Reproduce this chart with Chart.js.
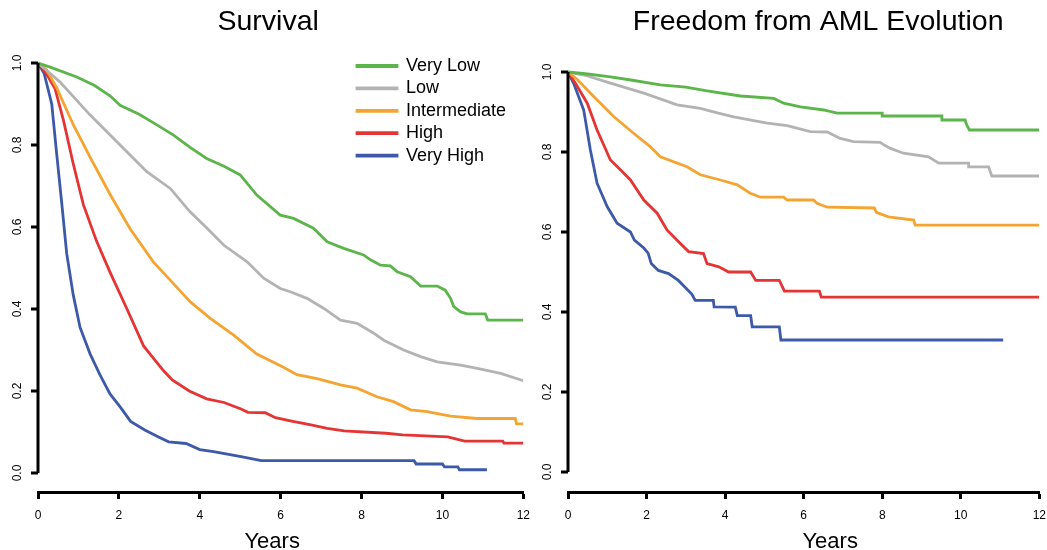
<!DOCTYPE html>
<html>
<head>
<meta charset="utf-8">
<title>IPSS-R survival and AML evolution</title>
<script src="https://cdn.jsdelivr.net/npm/chart.js@4.4.0/dist/chart.umd.min.js"></script>
<style>
  html, body { margin: 0; padding: 0; background: #fff; overflow: hidden; }
  .wrap { position: relative; width: 1047px; height: 550px; overflow: hidden; }
  canvas { position: absolute; top: 0; }
  #survival { left: 0; }
  #aml { left: 530px; }
</style>
</head>
<body>
<div class="wrap">
  <canvas id="survival" width="539" height="550"></canvas>
  <canvas id="aml" width="525" height="550"></canvas>
</div>
<script>
const FONT = "'Liberation Sans', Arial, Helvetica, sans-serif";

const riskGroups = ["Very Low", "Low", "Intermediate", "High", "Very High"];
const groupColors = ["#5cb54a", "#b3b3b3", "#f5a431", "#e43434", "#3d5aa9"];
const yearTicks = [0, 2, 4, 6, 8, 10, 12];
const probTicks = [0, 0.2, 0.4, 0.6, 0.8, 1.0];

// overall survival, [years, proportion alive]
const osVeryLow = [[0, 1], [0.3, 0.99], [0.96, 0.966], [1.4, 0.945], [1.78, 0.92], [2.03, 0.897],
  [2.5, 0.875], [2.94, 0.849], [3.35, 0.824], [3.76, 0.794], [4.17, 0.767], [4.6, 0.748],
  [5.0, 0.727], [5.41, 0.678], [5.99, 0.629], [6.32, 0.621], [6.81, 0.597], [7.15, 0.564],
  [7.56, 0.548], [8.05, 0.532], [8.22, 0.52], [8.47, 0.507], [8.71, 0.505], [8.88, 0.491],
  [9.21, 0.479], [9.46, 0.456], [9.87, 0.456], [10.07, 0.446], [10.2, 0.426], [10.28, 0.406],
  [10.45, 0.393], [10.61, 0.388], [11.06, 0.388], [11.12, 0.373], [12, 0.373]];
const osLow = [[0, 1], [0.54, 0.954], [1.29, 0.873], [1.95, 0.808], [2.69, 0.735], [3.27, 0.694],
  [3.76, 0.637], [4.18, 0.597], [4.59, 0.556], [5.17, 0.515], [5.58, 0.475], [5.99, 0.45],
  [6.24, 0.442], [6.65, 0.426], [7.06, 0.402], [7.48, 0.373], [7.89, 0.365], [8.3, 0.341],
  [8.55, 0.324], [9.04, 0.3], [9.46, 0.284], [9.87, 0.271], [10.45, 0.263], [10.86, 0.255],
  [11.44, 0.243], [12, 0.225]];
const osIntermediate = [[0, 1], [0.2, 0.985], [0.46, 0.94], [0.87, 0.85], [1.29, 0.77], [1.78, 0.68],
  [2.28, 0.595], [2.85, 0.515], [3.35, 0.462], [3.76, 0.418], [4.26, 0.377], [4.83, 0.337],
  [5.41, 0.29], [6.07, 0.258], [6.4, 0.24], [6.9, 0.23], [7.48, 0.215], [7.89, 0.207],
  [8.38, 0.186], [8.79, 0.174], [9.21, 0.154], [9.62, 0.15], [10.2, 0.139], [10.86, 0.133],
  [11.8, 0.133], [11.83, 0.12], [12, 0.12]];
const osHigh = [[0, 1], [0.2, 0.975], [0.42, 0.938], [0.63, 0.86], [0.87, 0.755], [1.12, 0.655],
  [1.45, 0.565], [1.78, 0.49], [2.2, 0.4], [2.61, 0.31], [3.1, 0.25], [3.32, 0.227], [3.74, 0.2],
  [4.17, 0.181], [4.6, 0.172], [5.02, 0.156], [5.19, 0.148], [5.62, 0.147], [5.87, 0.135],
  [6.3, 0.126], [6.72, 0.118], [7.15, 0.109], [7.57, 0.103], [8.6, 0.097], [9.02, 0.093],
  [10.13, 0.088], [10.55, 0.078], [11.49, 0.078], [11.52, 0.073], [12, 0.073]];
const osVeryHigh = [[0, 1], [0.15, 0.975], [0.34, 0.9], [0.46, 0.78], [0.59, 0.655], [0.71, 0.535],
  [0.87, 0.435], [1.04, 0.355], [1.29, 0.29], [1.53, 0.24], [1.78, 0.193], [2.04, 0.16],
  [2.29, 0.126], [2.64, 0.105], [2.98, 0.088], [3.23, 0.076], [3.66, 0.072], [4.0, 0.057],
  [4.34, 0.052], [5.02, 0.04], [5.52, 0.03], [9.3, 0.03], [9.35, 0.022], [10.0, 0.022],
  [10.05, 0.015], [10.38, 0.015], [10.42, 0.008], [11.1, 0.008]];

// freedom from AML evolution, [years, proportion free]
const amlVeryLow = [[0, 1], [0.5, 0.995], [1.08, 0.988], [1.6, 0.98], [2.35, 0.968], [3.0, 0.962],
  [3.54, 0.953], [4.39, 0.94], [5.24, 0.934], [5.49, 0.922], [5.92, 0.913], [6.51, 0.905],
  [6.85, 0.897], [8.0, 0.897], [8.0, 0.89], [9.52, 0.89], [9.52, 0.88], [10.11, 0.88],
  [10.15, 0.868], [10.22, 0.855], [12, 0.855]];
const amlLow = [[0, 1], [0.5, 0.99], [1.08, 0.972], [1.93, 0.947], [2.78, 0.918], [3.37, 0.909],
  [3.8, 0.898], [4.22, 0.888], [5.07, 0.872], [5.58, 0.866], [6.17, 0.851], [6.6, 0.85],
  [6.93, 0.834], [7.27, 0.826], [7.95, 0.824], [8.04, 0.818], [8.21, 0.809], [8.54, 0.797],
  [9.18, 0.788], [9.44, 0.772], [10.2, 0.772], [10.2, 0.763], [10.71, 0.763], [10.79, 0.74],
  [12, 0.74]];
const amlIntermediate = [[0, 1], [0.25, 0.98], [0.66, 0.938], [1.17, 0.888], [1.67, 0.847],
  [2.1, 0.813], [2.35, 0.788], [3.03, 0.763], [3.37, 0.743], [3.88, 0.73], [4.31, 0.718],
  [4.64, 0.697], [4.9, 0.687], [5.49, 0.687], [5.58, 0.68], [6.25, 0.68], [6.34, 0.672],
  [6.6, 0.662], [7.8, 0.66], [7.85, 0.649], [8.16, 0.638], [8.8, 0.63], [8.84, 0.617], [12, 0.617]];
const amlHigh = [[0, 1], [0.2, 0.97], [0.49, 0.922], [0.74, 0.855], [1.08, 0.78], [1.34, 0.755],
  [1.59, 0.73], [1.93, 0.68], [2.27, 0.647], [2.52, 0.605], [2.81, 0.576], [3.07, 0.551],
  [3.45, 0.546], [3.54, 0.521], [3.84, 0.513], [4.09, 0.5], [4.65, 0.5], [4.78, 0.479],
  [5.38, 0.479], [5.51, 0.452], [6.4, 0.452], [6.45, 0.437], [12, 0.437]];
const amlVeryHigh = [[0, 1], [0.15, 0.97], [0.4, 0.905], [0.57, 0.805], [0.74, 0.722], [1.0, 0.663],
  [1.25, 0.622], [1.59, 0.6], [1.69, 0.58], [1.93, 0.56], [2.04, 0.547], [2.12, 0.521],
  [2.3, 0.504], [2.56, 0.496], [2.81, 0.479], [2.98, 0.462], [3.15, 0.445], [3.24, 0.429],
  [3.7, 0.429], [3.72, 0.413], [4.26, 0.412], [4.31, 0.391], [4.65, 0.391], [4.69, 0.363],
  [5.38, 0.363], [5.42, 0.33], [11.08, 0.33]];

Chart.defaults.font.family = FONT;
Chart.defaults.color = "#000";

// R-style left axis: line only from 0 to 1, outward ticks, labels turned on their side.
// Also moves the title (relative to the plot centre) and the legend into place,
// and writes the x-axis title where the figure puts it.
const rAxis = {
  id: "rAxis",
  afterLayout(chart, args, opts) {
    const tb = chart.titleBlock;
    if (tb) {
      const c = (chart.chartArea.left + chart.chartArea.right) / 2 + (opts.titleShift || 0);
      const w = tb.right - tb.left;
      tb.left = c - w / 2;
      tb.right = c + w / 2;
    }
    const lg = chart.legend;
    if (lg && opts.legendAt) {
      const w = lg.width, h = lg.height;
      lg.left = opts.legendAt.x;
      lg.top = opts.legendAt.y;
      lg.right = lg.left + w;
      lg.bottom = lg.top + h;
    }
  },
  afterDraw(chart, args, opts) {
    const { ctx, chartArea } = chart;
    const y = chart.scales.y;
    const x0 = chartArea.left;
    const top = y.getPixelForValue(probTicks[probTicks.length - 1]);
    const bottom = y.getPixelForValue(probTicks[0]);
    ctx.save();
    ctx.strokeStyle = "#000";
    ctx.lineWidth = 3;
    ctx.beginPath();
    ctx.moveTo(x0, bottom);
    ctx.lineTo(x0, top);
    probTicks.forEach(v => {
      const p = y.getPixelForValue(v);
      ctx.moveTo(x0, p);
      ctx.lineTo(x0 - 7, p);
    });
    ctx.stroke();
    ctx.fillStyle = "#000";
    ctx.font = "12px " + FONT;
    ctx.textAlign = "center";
    ctx.textBaseline = "middle";
    probTicks.forEach(v => {
      ctx.save();
      ctx.translate(x0 - 20, y.getPixelForValue(v));
      ctx.rotate(-Math.PI / 2);
      ctx.fillText(v.toFixed(1), 0, 0);
      ctx.restore();
    });

    // x-axis title
    const xTitle = chart.options.scales.x.title.text;
    ctx.font = "22px " + FONT;
    ctx.fillText(xTitle, (chartArea.left + chartArea.right) / 2 + (opts.xTitleShift || 0), chart.height - 8);
    ctx.restore();
  }
};

function curves(series) {
  return series.map((pts, i) => ({
    label: riskGroups[i],
    data: pts.map(([x, y]) => ({ x, y })),
    borderColor: groupColors[i],
    backgroundColor: groupColors[i],
    borderWidth: 2.8,
    pointRadius: 0,
    tension: 0,
    fill: false
  }));
}

function kmChart(id, title, series, yRange, extra) {
  return new Chart(document.getElementById(id), {
    type: "line",
    data: { datasets: curves(series) },
    plugins: [rAxis],
    options: {
      responsive: false,
      animation: false,
      devicePixelRatio: 1,
      layout: { padding: { left: 38, right: 0, top: 0, bottom: 18.6 } },
      scales: {
        x: {
          type: "linear",
          min: 0,
          max: 12,
          afterBuildTicks: s => { s.ticks = yearTicks.map(v => ({ value: v })); },
          grid: { display: true, drawOnChartArea: false, drawTicks: true, tickLength: 7, tickWidth: 3, tickColor: "#000", color: "#000" },
          border: { display: true, color: "#000", width: 3 },
          ticks: { color: "#000", padding: 9, maxRotation: 0, autoSkip: false, font: { size: 12, lineHeight: 1.2 } },
          title: { display: false, text: "Years" }
        },
        y: { type: "linear", display: false, min: yRange[0], max: yRange[1] }
      },
      plugins: {
        title: {
          display: true,
          text: title,
          color: "#000",
          font: { size: 28.5, weight: "normal", lineHeight: 1.2 },
          padding: { top: 5, bottom: 7.4 }
        },
        legend: extra.legend,
        tooltip: { enabled: false },
        rAxis: { titleShift: extra.titleShift, xTitleShift: extra.xTitleShift, legendAt: extra.legendAt }
      }
    }
  });
}

kmChart("survival", "Survival",
  [osVeryLow, osLow, osIntermediate, osHigh, osVeryHigh],
  [-0.0463, 1.04],
  {
    titleShift: -12.5,
    xTitleShift: -8.5,
    legendAt: { x: 352.6, y: 52.6 },
    legend: {
      display: true,
      position: "chartArea",
      align: "start",
      labels: { boxWidth: 40, boxHeight: 1, padding: 4.4, color: "#000", font: { size: 18 } }
    }
  });

kmChart("aml", "Freedom from AML Evolution",
  [amlVeryLow, amlLow, amlIntermediate, amlHigh, amlVeryHigh],
  [-0.05, 1.0635],
  { titleShift: 14.5, xTitleShift: 26.5, legendAt: null, legend: { display: false } });
</script>
</body>
</html>
